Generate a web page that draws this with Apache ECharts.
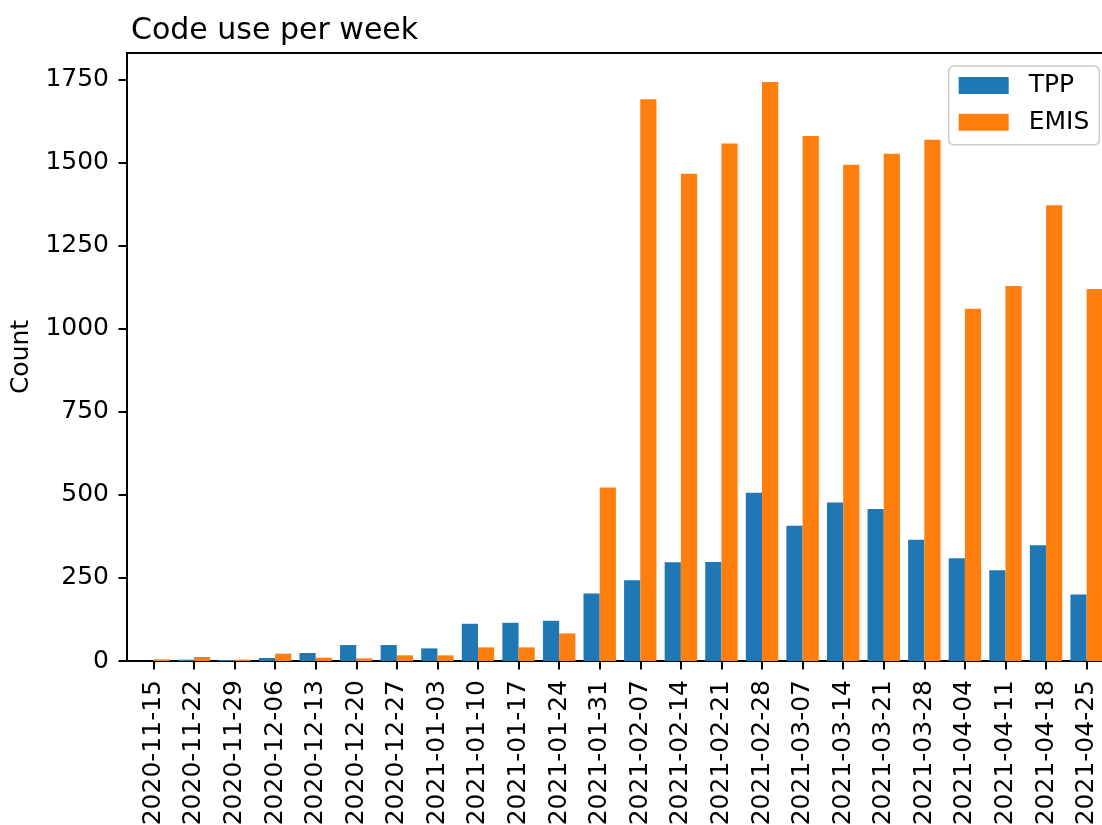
<!DOCTYPE html>
<html>
<head>
<meta charset="utf-8">
<script src="https://cdn.jsdelivr.net/npm/echarts@6/dist/echarts.min.js"></script>
<style>
html,body{margin:0;padding:0;background:#fff;overflow:hidden;width:1102px;height:825px;}
#chart{width:1114px;height:825px;}
</style>
</head>
<body>
<div id="chart"></div>
<script>
const dates = ['2020-11-15','2020-11-22','2020-11-29','2020-12-06','2020-12-13','2020-12-20','2020-12-27','2021-01-03','2021-01-10','2021-01-17','2021-01-24','2021-01-31','2021-02-07','2021-02-14','2021-02-21','2021-02-28','2021-03-07','2021-03-14','2021-03-21','2021-03-28','2021-04-04','2021-04-11','2021-04-18','2021-04-25'];
const tpp  = [0, 4, 3, 9, 24, 48, 48, 38, 112, 115, 121, 203, 243, 297, 298, 506, 407, 477, 457, 365, 309, 273, 348, 200];
const emis = [5, 12, 4, 22, 10, 8, 17, 17, 41, 41, 83, 522, 1690, 1466, 1557, 1742, 1579, 1493, 1526, 1568, 1060, 1128, 1371, 1119];
const yTicks = [0, 250, 500, 750, 1000, 1250, 1500, 1750];
const seriesNames = ['TPP', 'EMIS'];
const colors = ['#1f77b4', '#ff7f0e'];

const xIdx = dates.map((d, i) => i);
const FS = 25;
const font = 'DejaVu Sans';

const chart = echarts.init(document.getElementById('chart'), null, {renderer: 'canvas'});
chart.setOption({
  animation: false,
  backgroundColor: '#ffffff',
  textStyle: {fontFamily: font},
  title: {
    text: 'Code use per week',
    left: 126, top: 11,
    textStyle: {fontFamily: font, fontSize: 30, fontWeight: 'normal', color: '#000'}
  },
  legend: {
    orient: 'vertical',
    right: 14.7, top: 66,
    data: seriesNames.map(n => ({name: n, icon: 'rect'})),
    itemWidth: 50, itemHeight: 17, itemGap: 11.7,
    padding: [7, 10, 10, 10],
    borderColor: '#cccccc', borderWidth: 1.5, borderRadius: 5,
    backgroundColor: 'rgba(255,255,255,0.8)',
    textStyle: {fontFamily: font, fontSize: FS, color: '#000', lineHeight: 25, padding: [0, 0, 0, 15]}
  },
  grid: {left: 127, top: 53, right: 1, bottom: 164, show: true, borderColor: '#000', borderWidth: 2, containLabel: false, outerBoundsMode: 'none'},
  xAxis: {
    type: 'value',
    min: -0.65, max: 23.65,
    axisLine: {show: true, onZero: false, lineStyle: {color: '#000', width: 2}},
    axisTick: {show: true, length: 8.5, lineStyle: {color: '#000', width: 2}, customValues: xIdx},
    axisLabel: {
      customValues: xIdx, rotate: 90, margin: 19,
      fontFamily: font, fontSize: FS, color: '#000',
      formatter: v => dates[Math.round(v)] || ''
    },
    splitLine: {show: false}
  },
  yAxis: {
    type: 'value',
    min: 0, max: 1829,
    name: 'Count', nameLocation: 'middle', nameGap: 93,
    nameTextStyle: {fontFamily: font, fontSize: FS, color: '#000'},
    axisLine: {show: true, onZero: false, lineStyle: {color: '#000', width: 2}},
    axisTick: {show: true, length: 8.5, lineStyle: {color: '#000', width: 2}, customValues: yTicks},
    axisLabel: {customValues: yTicks, margin: 18, fontFamily: font, fontSize: FS, color: '#000', formatter: v => String(v)},
    splitLine: {show: false}
  },
  series: [
    {name: seriesNames[0], type: 'bar', data: tpp.map((v, i) => [i, v]), barWidth: 16.2, barGap: '0%', itemStyle: {color: colors[0]}},
    {name: seriesNames[1], type: 'bar', data: emis.map((v, i) => [i, v]), barWidth: 16.2, barGap: '0%', itemStyle: {color: colors[1]}}
  ]
});
</script>
</body>
</html>
